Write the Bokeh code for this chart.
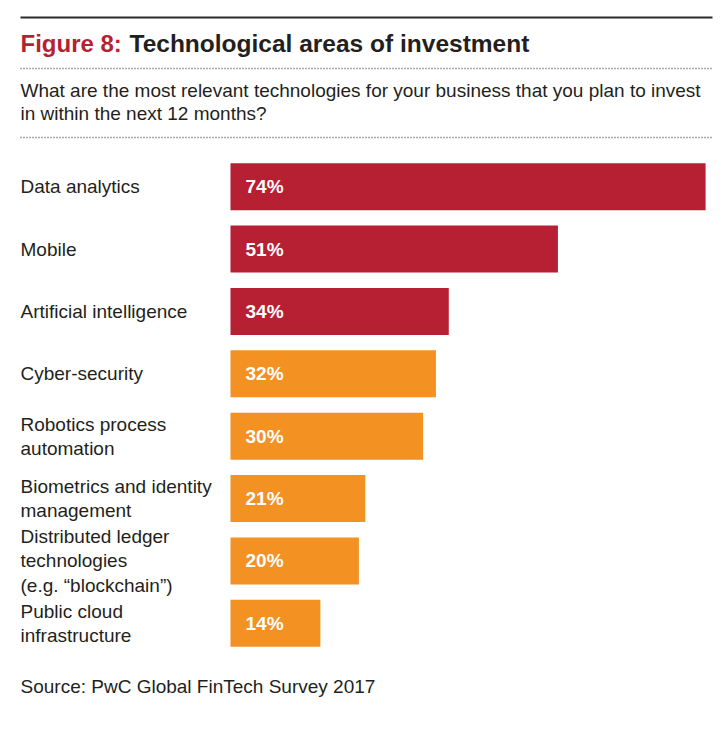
from bokeh.plotting import figure
from bokeh.layouts import column
from bokeh.models import Range1d, FactorRange
from bokeh.core.properties import value
from bokeh.embed import file_html
from bokeh.resources import INLINE

# ---------------- data ----------------
categories = [
    "Data analytics",
    "Mobile",
    "Artificial intelligence",
    "Cyber-security",
    "Robotics process automation",
    "Biometrics and identity management",
    "Distributed ledger technologies (e.g. \u201cblockchain\u201d)",
    "Public cloud infrastructure",
]
category_labels = [
    "Data analytics",
    "Mobile",
    "Artificial intelligence",
    "Cyber-security",
    "Robotics process\nautomation",
    "Biometrics and identity\nmanagement",
    "Distributed ledger\ntechnologies\n(e.g. \u201cblockchain\u201d)",
    "Public cloud\ninfrastructure",
]
values = [74, 51, 34, 32, 30, 21, 20, 14]
highlight = [True, True, True, False, False, False, False, False]

title_prefix = "Figure 8:"
title_text = "Technological areas of investment"
subtitle_lines = [
    "What are the most relevant technologies for your business that you plan to invest",
    "in within the next 12 months?",
]
source_text = "Source: PwC Global FinTech Survey 2017"

RED = "#B71F33"
ORANGE = "#F39122"
INK = "#231F20"
FONT = "Liberation Sans"

W = 720
HEAD_H = 155
BAR_H = 499
FOOT_H = 66
LEFT = 230          # pixels left of bar origin
PX_PER_PCT = 6.42

def base_fig(w, h, xr, yr):
    f = figure(width=w, height=h, x_range=xr, y_range=yr,
               output_backend="svg", toolbar_location=None,
               min_border=0, min_border_left=0, min_border_right=0,
               min_border_top=0, min_border_bottom=0)
    f.axis.visible = False
    f.grid.visible = False
    f.outline_line_color = None
    f.background_fill_color = "white"
    f.border_fill_color = "white"
    return f

# ---------------- header ----------------
head = base_fig(W, HEAD_H, Range1d(0, W), Range1d(HEAD_H, 0))
head.line(x=[20, 712], y=[17, 17], line_color="#2b2b2b", line_width=2)
head.text(x=[20], y=[43], text=[title_prefix], text_color=RED,
          text_font=value(FONT), text_font_style="bold", text_font_size="24px",
          text_align="left", text_baseline="middle")
head.text(x=[129], y=[43], text=[title_text], text_color=INK,
          text_font=value(FONT), text_font_style="bold", text_font_size="24.5px",
          text_align="left", text_baseline="middle")
head.line(x=[20, 712], y=[68, 68], line_color="#555555", line_width=1.5, line_dash="1 2")
head.text(x=[20, 20], y=[90, 113], text=subtitle_lines, text_color=INK,
          text_font=value(FONT), text_font_size="19px",
          text_align="left", text_baseline="middle")
head.line(x=[20, 712], y=[137, 137], line_color="#555555", line_width=1.5, line_dash="1 2")

# ---------------- bars ----------------
xr = Range1d(-LEFT / PX_PER_PCT, (W - LEFT) / PX_PER_PCT)
yr = FactorRange(factors=categories[::-1], range_padding=0)
bars = base_fig(W, BAR_H, xr, yr)
colors = [RED if h else ORANGE for h in highlight]
bars.hbar(y=categories, left=0, right=values, height=0.755, fill_color=colors, line_color=None)
bars.text(x=[0] * len(categories), y=categories, text=category_labels, x_offset=-210,
          text_color=INK, text_font=value(FONT), text_font_size="19px",
          text_align="left", text_baseline="middle", text_line_height=1.16)
bars.text(x=[0] * len(categories), y=categories, text=[f"{v}%" for v in values], x_offset=15,
          text_color="white", text_font=value(FONT), text_font_style="bold",
          text_font_size="19px", text_align="left", text_baseline="middle")

# ---------------- footer ----------------
foot = base_fig(W, FOOT_H, Range1d(0, W), Range1d(FOOT_H, 0))
foot.text(x=[20], y=[32], text=[source_text], text_color=INK,
          text_font=value(FONT), text_font_size="19px",
          text_align="left", text_baseline="middle")

layout = column(head, bars, foot, spacing=0)
open("out.html", "w").write(file_html(layout, INLINE))
